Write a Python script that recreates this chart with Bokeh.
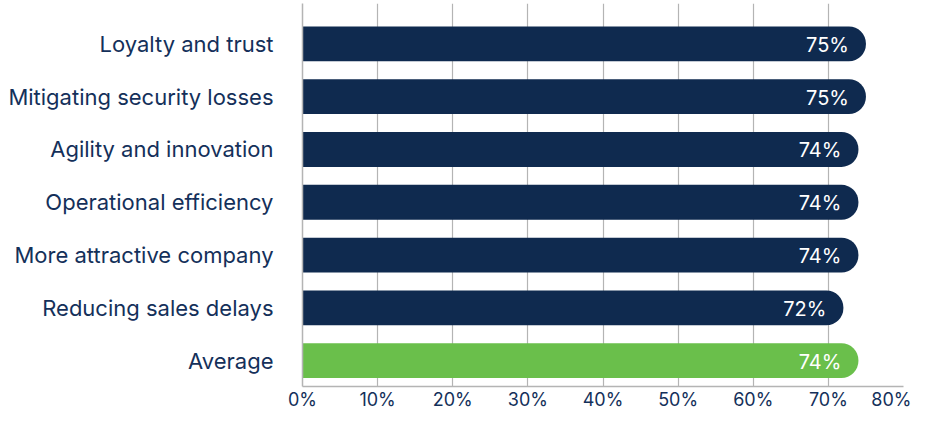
from bokeh.plotting import figure
from bokeh.models import FixedTicker, ColumnDataSource
from bokeh.embed import file_html
from bokeh.resources import INLINE
from bokeh.core.properties import value

categories = ["Loyalty and trust", "Mitigating security losses", "Agility and innovation",
              "Operational efficiency", "More attractive company", "Reducing sales delays", "Average"]
values = [75, 75, 74, 74, 74, 72, 74]
x_ticks = [0, 10, 20, 30, 40, 50, 60, 70, 80]
x_tick_labels = ["0%", "10%", "20%", "30%", "40%", "50%", "60%", "70%", "80%"]

NAVY = "#0f2a4f"
GREEN = "#6abf4b"
TEXT = "#14305a"
GRID = "#b4b4b4"

n = len(categories)
ypos = [n - 1 - i for i in range(n)]
colors = [NAVY] * (n - 1) + [GREEN]
labels = [f"{v}%" for v in values]

src = ColumnDataSource(dict(y=ypos, v=values, c=colors, lab=labels))

p = figure(width=911, height=412, output_backend="svg", toolbar_location=None,
           x_range=(0, 80), y_range=(-0.49, n - 1 + 0.765),
           min_border_left=302, min_border_right=8, min_border_top=3, min_border_bottom=20)
p.outline_line_color = None
p.background_fill_color = "white"

p.hbar(y="y", left=0, right="v", height=0.66, fill_color="c", line_color=None,
       border_radius=(0, 17, 17, 0), source=src)
p.text(x="v", y="y", text="lab", source=src, text_color="white", text_align="right",
       text_baseline="middle", x_offset=-17, y_offset=1, text_font_size="20px",
       text_font=value("Inter"))

p.xaxis.ticker = FixedTicker(ticks=x_ticks)
p.xaxis.major_label_overrides = {t: l for t, l in zip(x_ticks, x_tick_labels)}
p.xaxis.major_tick_line_color = None
p.xaxis.major_tick_out = 0
p.xaxis.major_tick_in = 0
p.xaxis.minor_tick_line_color = None
p.xaxis.axis_line_color = GRID
p.xaxis.axis_line_width = 1.5
p.xaxis.major_label_text_color = TEXT
p.xaxis.major_label_text_font = "Inter"
p.xaxis.major_label_text_font_size = "18px"
p.xaxis.major_label_standoff = 2

p.yaxis.ticker = FixedTicker(ticks=ypos)
p.yaxis.major_label_overrides = {y: c for y, c in zip(ypos, categories)}
p.yaxis.major_tick_line_color = None
p.yaxis.major_tick_out = 0
p.yaxis.major_tick_in = 0
p.yaxis.minor_tick_line_color = None
p.yaxis.axis_line_color = GRID
p.yaxis.axis_line_width = 1.5
p.yaxis.major_label_text_color = TEXT
p.yaxis.major_label_text_font = "Inter"
p.yaxis.major_label_text_font_size = "22px"
p.yaxis.major_label_standoff = 29

p.xgrid.grid_line_color = GRID
p.xgrid.grid_line_width = 1.2
p.ygrid.grid_line_color = None

open("out.html", "w").write(file_html(p, INLINE))
